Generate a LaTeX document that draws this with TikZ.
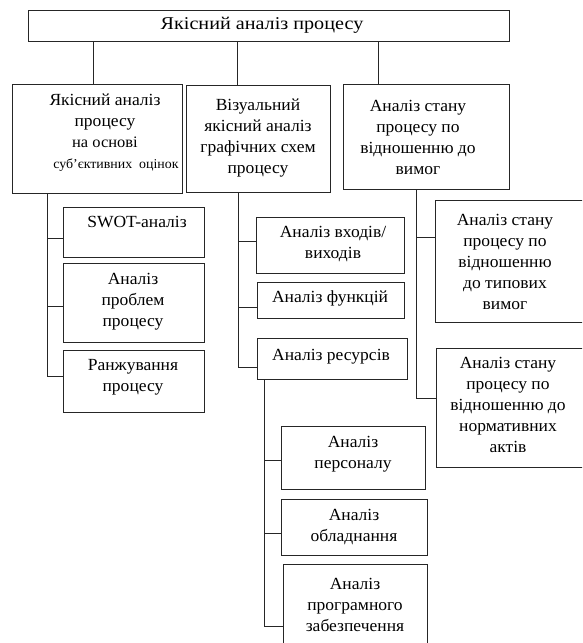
\documentclass[tikz,border=0pt]{standalone}
\usepackage{fontspec}
\setmainfont[FakeStretch=1.03]{Liberation Serif}
\newfontfamily\titlefont[FakeStretch=1.12]{Liberation Serif}
\begin{document}
\begin{tikzpicture}[x=1pt,y=-1pt,
  box/.style={draw=black!85,line width=1pt,rectangle,inner sep=0pt,anchor=north west},
  txt/.style={align=center,inner sep=0pt,font=\fontsize{17}{21}\selectfont},
  conn/.style={draw=black!85,line width=1pt}]
\useasboundingbox (0,0) rectangle (582,643);
\begin{scope}
\clip (0,0) rectangle (582,643);
% top
\node[box,minimum width=481pt,minimum height=31pt] (top) at (28,10) {};
\node[txt,font=\titlefont\fontsize{18}{21}\selectfont] (topt) at (262,25) {Якісний аналіз процесу};
% level 1
\node[box,minimum width=170pt,minimum height=109pt] (l1) at (12,84) {};
\node[txt] (l1t) at (105,133) {Якісний аналіз\\процесу\\\fontsize{16}{21}\selectfont на основі\\\fontsize{13.5}{21}\selectfont\hspace*{22pt}суб'єктивних\ \ оцінок};
\node[box,minimum width=144pt,minimum height=107pt] (l2) at (186,85) {};
\node[txt] (l2t) at (258,138) {Візуальний\\якісний аналіз\\графічних схем\\процесу};
\node[box,minimum width=166pt,minimum height=105pt] (l3) at (343,84) {};
\node[txt] (l3t) at (418,137) {Аналіз стану\\процесу по\\відношенню до\\вимог};
% left column
\node[box,minimum width=141pt,minimum height=50pt] (swot) at (63,207) {};
\node[txt] (swott) at (137,222) {SWOT-аналіз};
\node[box,minimum width=141pt,minimum height=79pt] (prob) at (63,263) {};
\node[txt] (probt) at (133,302) {Аналіз\\проблем\\процесу};
\node[box,minimum width=141pt,minimum height=62pt] (rank) at (63,350) {};
\node[txt] (rankt) at (133,377) {Ранжування\\процесу};
% middle column
\node[box,minimum width=148pt,minimum height=56pt] (io) at (256,217) {};
\node[txt] (iot) at (333,244) {Аналіз входів/\\виходів};
\node[box,minimum width=147pt,minimum height=36pt] (func) at (257,282) {};
\node[txt] (funct) at (330,298) {Аналіз функцій};
\node[box,minimum width=150pt,minimum height=41pt] (res) at (257,338) {};
\node[txt] (rest) at (331,357) {Аналіз ресурсів};
% resources sub
\node[box,minimum width=144pt,minimum height=63pt] (pers) at (281,426) {};
\node[txt] (perst) at (353,454) {Аналіз\\персоналу};
\node[box,minimum width=146pt,minimum height=56pt] (equip) at (281,499) {};
\node[txt] (equipt) at (354,527) {Аналіз\\обладнання};
\node[box,minimum width=144pt,minimum height=90pt] (soft) at (283,564) {};
\node[txt] (softt) at (355,605) {Аналіз\\програмного\\забезпечення};
% right column
\node[box,minimum width=160pt,minimum height=122pt] (typ) at (435,200) {};
\node[txt] (typt) at (505,262) {Аналіз стану\\процесу по\\відношенню\\до типових\\вимог};
\node[box,minimum width=160pt,minimum height=119pt] (norm) at (436,348) {};
\node[txt] (normt) at (508,405) {Аналіз стану\\процесу по\\відношенню до\\нормативних\\актів};
% connectors
\coordinate (c1) at ([xshift=65pt]top.south west);
\coordinate (c2) at ([xshift=209pt]top.south west);
\coordinate (c3) at ([xshift=350pt]top.south west);
\draw[conn] (c1) -- (c1 |- l1.north);
\draw[conn] (c2) -- (c2 |- l2.north);
\draw[conn] (c3) -- (c3 |- l3.north);
\coordinate (t1) at ([xshift=35pt]l1.south west);
\coordinate (t2) at ([xshift=52pt]l2.south west);
\coordinate (t3) at ([xshift=7pt]res.south west);
\coordinate (t4) at ([xshift=73pt]l3.south west);
\draw[conn] (t1) |- ([yshift=-6pt]swot.west);
\draw[conn] (t1) |- ([yshift=-3.5pt]prob.west);
\draw[conn] (t1) |- ([yshift=5pt]rank.west);
\draw[conn] (t2) |- ([yshift=4pt]io.west);
\draw[conn] (t2) |- ([yshift=-7pt]func.west);
\draw[conn] (t2) |- ([yshift=-8.5pt]res.west);
\draw[conn] (t3) |- ([yshift=-2.5pt]pers.west);
\draw[conn] (t3) |- ([yshift=-6pt]equip.west);
\draw[conn] (t3) |- ([yshift=-17pt]soft.west);
\draw[conn] (t4) |- ([yshift=24pt]typ.west);
\draw[conn] (t4) |- ([yshift=9.5pt]norm.west);
\end{scope}
\end{tikzpicture}
\end{document}
